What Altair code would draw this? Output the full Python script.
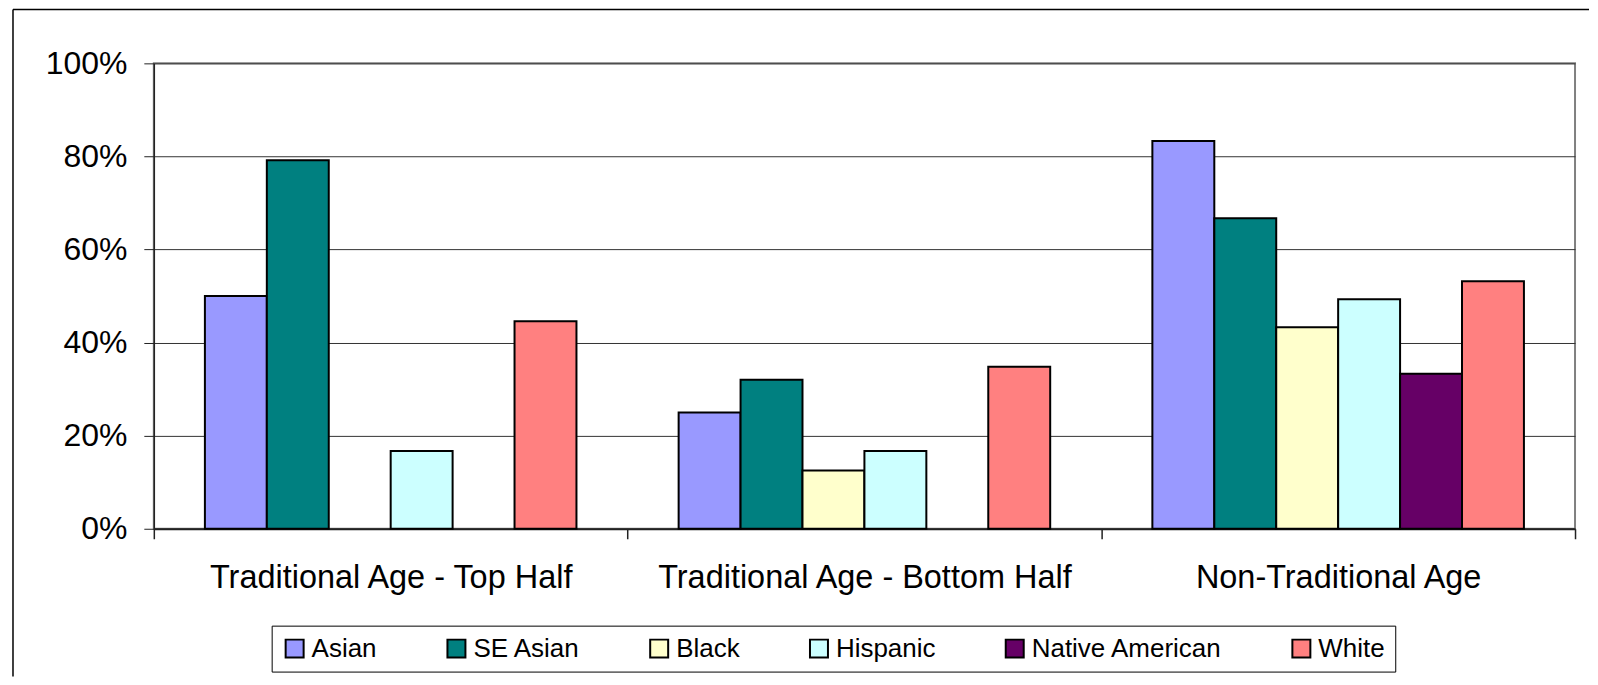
import altair as alt
import pandas as pd

categories = ["Traditional Age - Top Half", "Traditional Age - Bottom Half", "Non-Traditional Age"]
groups = ["Asian", "SE Asian", "Black", "Hispanic", "Native American", "White"]
colors = ["#9999FF", "#008080", "#FFFFCC", "#CCFFFF", "#660066", "#FF8080"]

# None = no bar drawn
top_half = [0.50, 0.792, None, 0.167, None, 0.446]
bottom_half = [0.25, 0.32, 0.125, 0.167, None, 0.348]
non_trad = [0.833, 0.667, 0.433, 0.493, 0.333, 0.532]

rows = []
for cat, vals in zip(categories, [top_half, bottom_half, non_trad]):
    for g, v in zip(groups, vals):
        if v is not None:
            rows.append({"category": cat, "group": g, "value": v})
df = pd.DataFrame(rows)

FONT = "Liberation Sans"

bars = alt.Chart(df).mark_bar(stroke="black", strokeWidth=2).encode(
    x=alt.X("category:N", sort=categories, title=None,
            scale=alt.Scale(paddingInner=0, paddingOuter=0),
            axis=alt.Axis(labelAngle=0, tickBand="extent", tickSize=10,
                          labelPadding=23, labelFontSize=32.5, labelFont=FONT,
                          labelColor="black", domainColor="#222", domainWidth=2,
                          tickColor="#222", tickWidth=1.5, grid=False, labelLimit=600)),
    xOffset=alt.XOffset("group:N", sort=groups,
                        scale=alt.Scale(domain=groups, paddingInner=0, paddingOuter=0.825)),
    y=alt.Y("value:Q", title=None,
            scale=alt.Scale(domain=[0, 1], nice=False),
            axis=alt.Axis(values=[0, 0.2, 0.4, 0.6, 0.8, 1.0], format=".0%",
                          tickSize=10, labelPadding=17, labelFontSize=32, labelFont=FONT,
                          labelColor="black", domainColor="#222", domainWidth=1.5,
                          tickColor="#222", gridColor="#333", gridWidth=1)),
    color=alt.Color("group:N", sort=groups,
                    scale=alt.Scale(domain=groups, range=colors),
                    legend=alt.Legend(orient="none", legendX=118, legendY=563,
                                      direction="horizontal", columns=6, title=None,
                                      symbolType="square", symbolSize=324,
                                      symbolStrokeColor="black", symbolStrokeWidth=2,
                                      symbolOpacity=1,
                                      labelFontSize=26, labelFont=FONT, labelColor="black",
                                      labelOffset=4, columnPadding=66, padding=10,
                                      strokeColor="black", fillColor="white",
                                      labelLimit=400)),
)

one = pd.DataFrame({"k": [0]})
frame_left = alt.Chart(one).mark_rule(color="black", strokeWidth=1.5).encode(
    x=alt.value(-141), y=alt.value(-54), y2=alt.value(614))
frame_top = alt.Chart(one).mark_rule(color="black", strokeWidth=1.5).encode(
    x=alt.value(-141), x2=alt.value(1437), y=alt.value(-54))

chart = alt.layer(bars, frame_left, frame_top).properties(
    width=1423, height=466,
    padding={"left": 4, "top": 0, "right": 0, "bottom": 0},
    background="white",
).configure_view(stroke="#808080", strokeWidth=2)

chart.save("out.html", embed_options={"renderer": "svg", "actions": False})
